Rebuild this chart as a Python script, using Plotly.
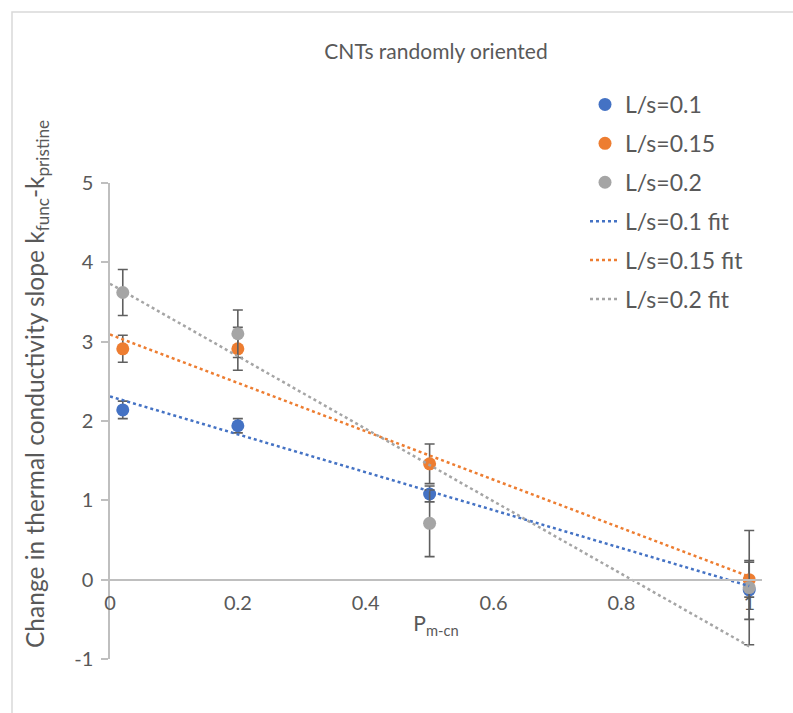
import plotly.graph_objects as go

# ---- data ----
x_pts = [0.02, 0.2, 0.5, 1.0]
y_ls01 = [2.14, 1.94, 1.08, -0.13]
y_ls015 = [2.91, 2.91, 1.46, 0.0]
y_ls02 = [3.62, 3.10, 0.71, -0.10]
err_ls01 = [0.11, 0.09, 0.10, 0.37]
err_ls015 = [0.17, 0.27, 0.25, 0.22]
err_ls02 = [0.29, 0.30, 0.42, 0.72]

x_fit = [0.0, 1.0]
fit_ls01 = [2.31, -0.08]
fit_ls015 = [3.09, 0.04]
fit_ls02 = [3.73, -0.84]

names = ["L/s=0.1", "L/s=0.15", "L/s=0.2"]
colors = ["#4472C4", "#ED7D31", "#A5A5A5"]

x_tickvals = [0, 0.2, 0.4, 0.6, 0.8, 1.0]
x_ticktext = ["0", "0.2", "0.4", "0.6", "0.8", "1"]
y_tickvals = [-1, 0, 1, 2, 3, 4, 5]
y_ticktext = ["-1", "0", "1", "2", "3", "4", "5"]

title_text = "CNTs randomly oriented"
x_title = "P<sub>m-cn</sub>"
y_title = "Change in thermal conductivity slope k<sub>func</sub>-k<sub>pristine</sub>"

FONT = "Lato"
TXT = "#595959"
AXC = "#BFBFBF"

fig = go.Figure()
for i, (yv, ev) in enumerate(zip([y_ls01, y_ls015, y_ls02], [err_ls01, err_ls015, err_ls02])):
    fig.add_trace(go.Scatter(
        x=x_pts, y=yv, mode="markers", name=names[i], legendgroup=f"g{i}",
        marker=dict(color=colors[i], size=13),
        error_y=dict(type="data", array=ev, symmetric=True, color="#5F5F5F",
                     thickness=1.6, width=5),
    ))
for i, fv in enumerate([fit_ls01, fit_ls015, fit_ls02]):
    fig.add_trace(go.Scatter(
        x=x_fit, y=fv, mode="lines", name=names[i] + " fit", legendgroup=f"f{i}",
        line=dict(color=colors[i], width=2.5, dash="dot"),
    ))

# plot area: left 110, right 762, top 183, bottom 659 (pixels)
L, R, T, B = 110, 762, 183, 659
W, H = 793, 713

def px2x(px):
    return (px - L) / (R - L)

def py2y(py):
    return (B - py) / (B - T)

fig.update_layout(
    width=W, height=H,
    margin=dict(l=L, r=W - R, t=T, b=H - B),
    paper_bgcolor="white", plot_bgcolor="white",
    font=dict(family=FONT, color=TXT),
    title=dict(text=title_text, x=0.5, xref="paper", xanchor="center",
               y=1 - 52 / H, yref="container", yanchor="middle",
               font=dict(size=21, color=TXT, family=FONT)),
    showlegend=True,
    legend=dict(x=px2x(585), y=py2y(83), xanchor="left", yanchor="top",
                font=dict(size=23, color=TXT, family=FONT),
                tracegroupgap=6, bgcolor="rgba(0,0,0,0)"),
    xaxis=dict(range=[0, 1.02], tickvals=x_tickvals, ticktext=x_ticktext,
               showgrid=False, zeroline=False, showline=True, linecolor=AXC, linewidth=1.5,
               ticks="", anchor="free", position=1 / 6,
               tickfont=dict(size=20, color=TXT, family=FONT), ticklabelstandoff=6,
               title=dict(text=x_title, font=dict(size=21, color=TXT, family=FONT), standoff=2)),
    yaxis=dict(range=[-1, 5], tickvals=y_tickvals, ticktext=y_ticktext,
               showgrid=False, zeroline=False,
               showline=True, linecolor=AXC, linewidth=1.5,
               ticks="outside", ticklen=7, tickcolor=AXC, tickwidth=1.5,
               tickfont=dict(size=20, color=TXT, family=FONT), ticklabelstandoff=4),
    annotations=[dict(text=y_title, textangle=-90, showarrow=False,
                      xref="paper", yref="paper", x=px2x(36), y=py2y(384),
                      xanchor="center", yanchor="middle",
                      font=dict(size=24.5, color=TXT, family=FONT))],
    shapes=[dict(type="rect", xref="paper", yref="paper",
                 x0=px2x(12), x1=px2x(850), y0=py2y(760), y1=py2y(12),
                 line=dict(color="#D9D9D9", width=1.5), layer="below")],
)

fig.write_html("out.html")
